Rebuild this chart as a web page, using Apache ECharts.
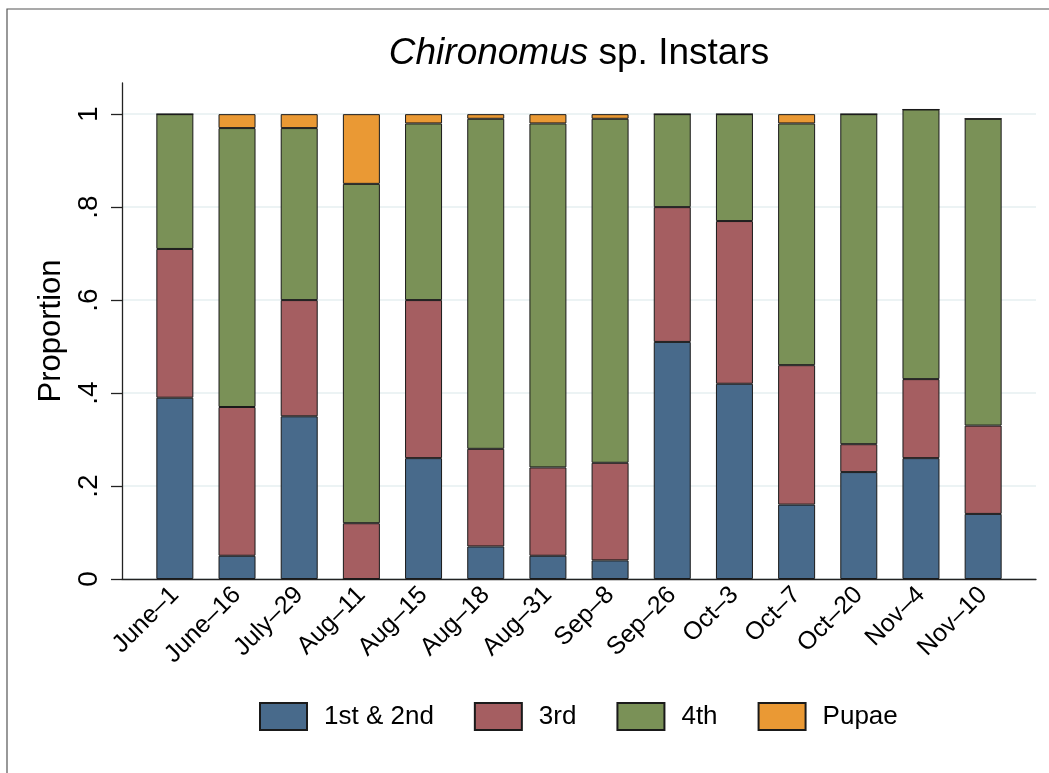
<!DOCTYPE html>
<html>
<head>
<meta charset="utf-8">
<script src="https://cdn.jsdelivr.net/npm/echarts@6/dist/echarts.min.js"></script>
<style>
  html, body { margin: 0; padding: 0; background: #fff; }
  #chart { width: 1049px; height: 773px; }
</style>
</head>
<body>
<div id="chart"></div>
<script>
// Sampling dates
const dates = ['June\u20131', 'June\u201316', 'July\u201329', 'Aug\u201311', 'Aug\u201315', 'Aug\u201318', 'Aug\u201331',
               'Sep\u20138', 'Sep\u201326', 'Oct\u20133', 'Oct\u20137', 'Oct\u201320', 'Nov\u20134', 'Nov\u201310'];

// Proportion of each instar stage per sampling date
const instar12 = [0.39, 0.05, 0.35, 0.00, 0.26, 0.07, 0.05, 0.04, 0.51, 0.42, 0.16, 0.23, 0.26, 0.14];
const instar3  = [0.32, 0.32, 0.25, 0.12, 0.34, 0.21, 0.19, 0.21, 0.29, 0.35, 0.30, 0.06, 0.17, 0.19];
const instar4  = [0.29, 0.60, 0.37, 0.73, 0.38, 0.71, 0.74, 0.74, 0.20, 0.23, 0.52, 0.71, 0.58, 0.66];
const pupae    = [0.00, 0.03, 0.03, 0.15, 0.02, 0.01, 0.02, 0.01, 0.00, 0.00, 0.02, 0.00, 0.00, 0.00];

const yTicks = [0, 0.2, 0.4, 0.6, 0.8, 1];
const yTickLabels = ['0', '.2', '.4', '.6', '.8', '1'];

const stages = [
  { name: '1st & 2nd', values: instar12, color: '#486a8b' },
  { name: '3rd',       values: instar3,  color: '#a55e61' },
  { name: '4th',       values: instar4,  color: '#7a9157' },
  { name: 'Pupae',     values: pupae,    color: '#ea9934' }
];

const FONT = '"Liberation Sans", Arial, Helvetica, sans-serif';
const chart = echarts.init(document.getElementById('chart'), null, { renderer: 'canvas' });

chart.setOption({
  animation: false,
  backgroundColor: '#ffffff',
  textStyle: { fontFamily: FONT, color: '#000' },
  graphic: [{
    type: 'rect',
    shape: { x: 7, y: 9, width: 1100, height: 820 },
    style: { fill: 'none', stroke: '#555', lineWidth: 1.2 },
    silent: true
  }],
  title: {
    text: '{i|Chironomus} sp. Instars',
    left: 579,
    top: 35,
    padding: 0,
    textAlign: 'center',
    textStyle: {
      fontFamily: FONT, fontSize: 37, fontWeight: 'normal', color: '#000',
      rich: { i: { fontFamily: FONT, fontSize: 37, fontStyle: 'italic', color: '#000' } }
    }
  },
  legend: {
    left: 259,
    top: 702,
    padding: 0,
    itemWidth: 47,
    itemHeight: 27,
    itemGap: 40,
    icon: 'rect',
    textStyle: { fontFamily: FONT, fontSize: 26, color: '#000', padding: [0, 0, 0, 12] },
    data: stages.map(s => s.name)
  },
  grid: { left: 122, right: 13, top: 83, bottom: 194, containLabel: false },
  xAxis: {
    type: 'value',
    min: -0.85,
    max: 13.85,
    splitLine: { show: false },
    axisTick: { show: false },
    axisLine: { show: true, onZero: false, lineStyle: { color: '#222', width: 1.3 } },
    axisLabel: {
      customValues: dates.map((d, i) => i),
      formatter: v => dates[Math.round(v)] || '',
      rotate: 45,
      margin: 12,
      fontSize: 25,
      fontFamily: FONT,
      color: '#000'
    }
  },
  yAxis: {
    type: 'value',
    min: 0,
    max: 1.067,
    name: 'Proportion',
    nameLocation: 'middle',
    nameRotate: 90,
    nameGap: 54,
    nameTextStyle: { fontFamily: FONT, fontSize: 31, color: '#000' },
    axisLine: { show: true, onZero: false, lineStyle: { color: '#222', width: 1.3 } },
    axisTick: { show: true, length: 11, customValues: yTicks, lineStyle: { color: '#222', width: 1.3 } },
    axisLabel: {
      customValues: yTicks,
      formatter: v => yTickLabels[yTicks.findIndex(t => Math.abs(t - v) < 1e-6)] || '',
      rotate: 90,
      margin: 19,
      fontSize: 28,
      fontFamily: FONT,
      color: '#000'
    },
    splitLine: { show: true, lineStyle: { color: '#e6eff1', width: 1.5 } }
  },
  // each bar row is [proportion, date index]; the proportion dimension comes first so it is the stacked one
  series: stages.map(s => ({
    name: s.name,
    type: 'bar',
    stack: 'instars',
    barWidth: 37,
    dimensions: ['proportion', 'date'],
    encode: { x: 'date', y: 'proportion' },
    itemStyle: { color: s.color, borderColor: '#1a1a1a', borderWidth: 1 },
    emphasis: { disabled: true },
    data: s.values.map((v, i) => [v, i])
  }))
});
</script>
</body>
</html>
